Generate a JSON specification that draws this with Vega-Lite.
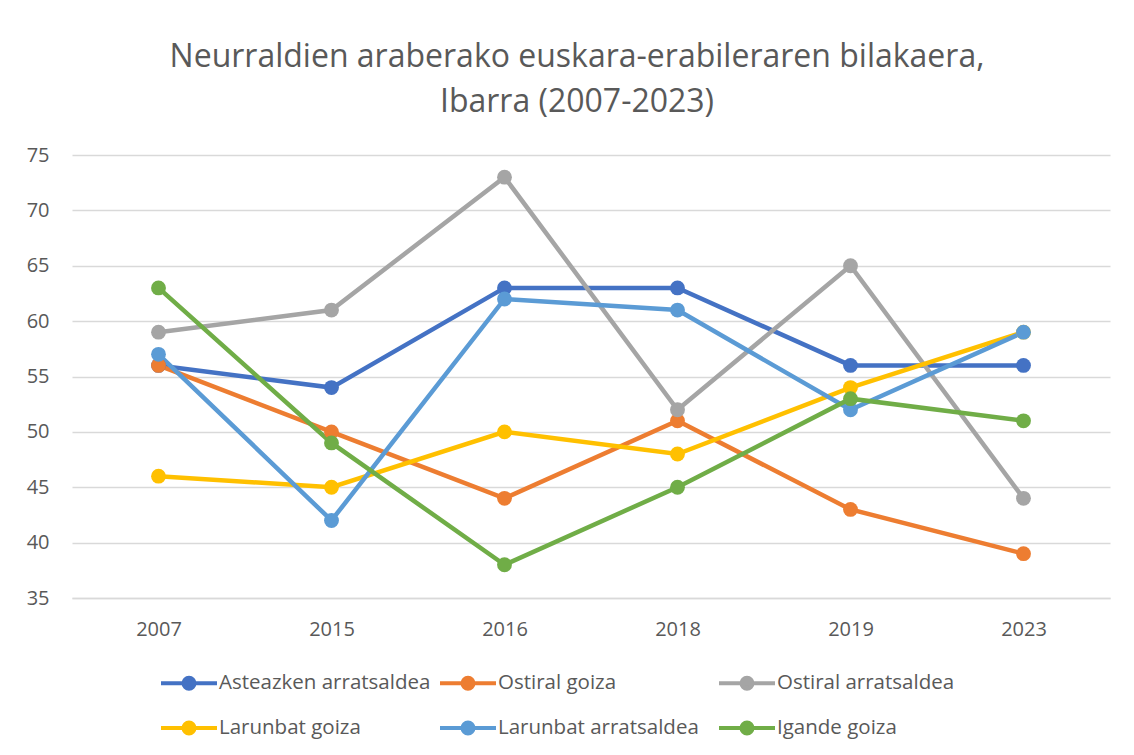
{
  "$schema": "https://vega.github.io/schema/vega-lite/v6.json",
  "width": 1038,
  "height": 443,
  "autosize": {"type": "none"},
  "padding": {"left": 72, "top": 155, "right": 24, "bottom": 157},
  "background": "white",
  "title": {
    "text": ["Neurraldien araberako euskara-erabileraren bilakaera,", "Ibarra (2007-2023)"],
    "font": "Open Sans",
    "fontSize": 32,
    "fontWeight": "normal",
    "color": "#595959",
    "lineHeight": 45,
    "offset": 26,
    "dx": -14
  },
  "config": {"view": {"stroke": null}},
  "data": {
    "values": [
      {"neurraldia": "Asteazken arratsaldea", "urtea": "2007", "balioa": 56},
      {"neurraldia": "Asteazken arratsaldea", "urtea": "2015", "balioa": 54},
      {"neurraldia": "Asteazken arratsaldea", "urtea": "2016", "balioa": 63},
      {"neurraldia": "Asteazken arratsaldea", "urtea": "2018", "balioa": 63},
      {"neurraldia": "Asteazken arratsaldea", "urtea": "2019", "balioa": 56},
      {"neurraldia": "Asteazken arratsaldea", "urtea": "2023", "balioa": 56},
      {"neurraldia": "Ostiral goiza", "urtea": "2007", "balioa": 56},
      {"neurraldia": "Ostiral goiza", "urtea": "2015", "balioa": 50},
      {"neurraldia": "Ostiral goiza", "urtea": "2016", "balioa": 44},
      {"neurraldia": "Ostiral goiza", "urtea": "2018", "balioa": 51},
      {"neurraldia": "Ostiral goiza", "urtea": "2019", "balioa": 43},
      {"neurraldia": "Ostiral goiza", "urtea": "2023", "balioa": 39},
      {"neurraldia": "Ostiral arratsaldea", "urtea": "2007", "balioa": 59},
      {"neurraldia": "Ostiral arratsaldea", "urtea": "2015", "balioa": 61},
      {"neurraldia": "Ostiral arratsaldea", "urtea": "2016", "balioa": 73},
      {"neurraldia": "Ostiral arratsaldea", "urtea": "2018", "balioa": 52},
      {"neurraldia": "Ostiral arratsaldea", "urtea": "2019", "balioa": 65},
      {"neurraldia": "Ostiral arratsaldea", "urtea": "2023", "balioa": 44},
      {"neurraldia": "Larunbat goiza", "urtea": "2007", "balioa": 46},
      {"neurraldia": "Larunbat goiza", "urtea": "2015", "balioa": 45},
      {"neurraldia": "Larunbat goiza", "urtea": "2016", "balioa": 50},
      {"neurraldia": "Larunbat goiza", "urtea": "2018", "balioa": 48},
      {"neurraldia": "Larunbat goiza", "urtea": "2019", "balioa": 54},
      {"neurraldia": "Larunbat goiza", "urtea": "2023", "balioa": 59},
      {"neurraldia": "Larunbat arratsaldea", "urtea": "2007", "balioa": 57},
      {"neurraldia": "Larunbat arratsaldea", "urtea": "2015", "balioa": 42},
      {"neurraldia": "Larunbat arratsaldea", "urtea": "2016", "balioa": 62},
      {"neurraldia": "Larunbat arratsaldea", "urtea": "2018", "balioa": 61},
      {"neurraldia": "Larunbat arratsaldea", "urtea": "2019", "balioa": 52},
      {"neurraldia": "Larunbat arratsaldea", "urtea": "2023", "balioa": 59},
      {"neurraldia": "Igande goiza", "urtea": "2007", "balioa": 63},
      {"neurraldia": "Igande goiza", "urtea": "2015", "balioa": 49},
      {"neurraldia": "Igande goiza", "urtea": "2016", "balioa": 38},
      {"neurraldia": "Igande goiza", "urtea": "2018", "balioa": 45},
      {"neurraldia": "Igande goiza", "urtea": "2019", "balioa": 53},
      {"neurraldia": "Igande goiza", "urtea": "2023", "balioa": 51}
    ]
  },
  "mark": {"type": "line", "strokeWidth": 4.5, "point": {"filled": true, "size": 220, "opacity": 1}},
  "encoding": {
    "x": {
      "field": "urtea",
      "type": "ordinal",
      "sort": null,
      "scale": {"type": "point", "padding": 0.5},
      "axis": {
        "title": null,
        "labelAngle": 0,
        "domain": true,
        "domainColor": "#D9D9D9",
        "domainWidth": 1.3,
        "ticks": false,
        "grid": false,
        "labelFont": "Open Sans",
        "labelFontSize": 20,
        "labelColor": "#595959",
        "labelPadding": 21
      }
    },
    "y": {
      "field": "balioa",
      "type": "quantitative",
      "scale": {"domain": [35, 75], "nice": false, "zero": false},
      "axis": {
        "title": null,
        "values": [35, 40, 45, 50, 55, 60, 65, 70, 75],
        "domain": false,
        "ticks": false,
        "grid": true,
        "gridColor": "#D9D9D9",
        "gridWidth": 1.3,
        "labelFont": "Open Sans",
        "labelFontSize": 20,
        "labelColor": "#595959",
        "labelPadding": 23
      }
    },
    "color": {
      "field": "neurraldia",
      "type": "nominal",
      "scale": {
        "domain": ["Asteazken arratsaldea", "Ostiral goiza", "Ostiral arratsaldea", "Larunbat goiza", "Larunbat arratsaldea", "Igande goiza"],
        "range": ["#4472C4", "#ED7D31", "#A5A5A5", "#FFC000", "#5B9BD5", "#70AD47"]
      },
      "legend": {
        "title": null,
        "orient": "none",
        "direction": "horizontal",
        "legendX": 95,
        "legendY": 506,
        "columns": 3,
        "gridAlign": "all",
        "columnPadding": 1,
        "rowPadding": 9,
        "padding": 0,
        "symbolType": "M-1.4,0L1.4,0M-0.275,0A0.275,0.275 0 1,0 0.275,0A0.275,0.275 0 1,0 -0.275,0Z",
        "symbolSize": 1600,
        "symbolStrokeWidth": 4,
        "labelFont": "Open Sans",
        "labelFontSize": 20.5,
        "labelColor": "#595959",
        "labelOffset": 8,
        "labelLimit": 400,
        "encode": {
          "symbols": {
            "update": {
              "fill": {"scale": "color", "field": "value"},
              "stroke": {"scale": "color", "field": "value"},
              "strokeWidth": {"value": 4},
              "opacity": {"value": 1},
              "fillOpacity": {"value": 1}
            }
          }
        }
      }
    }
  }
}
